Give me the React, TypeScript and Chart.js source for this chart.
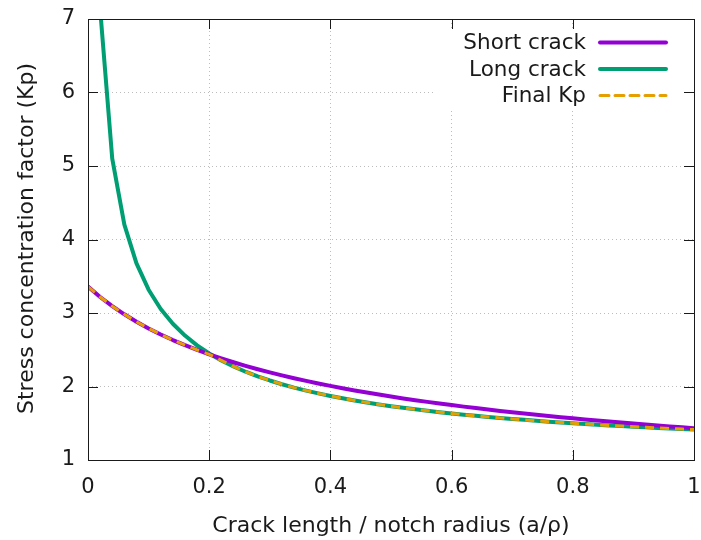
import React, { useEffect, useRef } from "react";
import { Chart, registerables } from "chart.js";

Chart.register(...registerables);

const xValues = [
  0, 0.02, 0.04, 0.06, 0.08, 0.1, 0.12, 0.14, 0.16, 0.18, 0.2, 0.22, 0.24, 0.26, 0.28, 0.3, 0.32, 0.34,
  0.36, 0.38, 0.4, 0.42, 0.44, 0.46, 0.48, 0.5, 0.52, 0.54, 0.56, 0.58, 0.6, 0.62, 0.64, 0.66, 0.68,
  0.7, 0.72, 0.74, 0.76, 0.78, 0.8, 0.82, 0.84, 0.86, 0.88, 0.9, 0.92, 0.94, 0.96, 0.98, 1.0,
];

const shortCrack = [
  3.36, 3.218, 3.093, 2.982, 2.881, 2.79, 2.708, 2.632, 2.562, 2.497, 2.438, 2.382, 2.33, 2.281, 2.235,
  2.192, 2.151, 2.112, 2.076, 2.041, 2.008, 1.976, 1.946, 1.918, 1.89, 1.864, 1.838, 1.814, 1.791, 1.768,
  1.747, 1.726, 1.706, 1.686, 1.668, 1.649, 1.632, 1.615, 1.598, 1.582, 1.567, 1.552, 1.537, 1.523, 1.509,
  1.495, 1.482, 1.469, 1.457, 1.445, 1.433,
];

const longCrack = [
  null, 7.141, 5.099, 4.203, 3.674, 3.317, 3.055, 2.854, 2.693, 2.56, 2.449, 2.355, 2.273, 2.201, 2.138,
  2.082, 2.031, 1.985, 1.944, 1.906, 1.871, 1.839, 1.809, 1.782, 1.756, 1.732, 1.71, 1.689, 1.669, 1.651,
  1.633, 1.616, 1.601, 1.586, 1.572, 1.558, 1.546, 1.533, 1.522, 1.511, 1.5, 1.49, 1.48, 1.471, 1.462,
  1.453, 1.445, 1.437, 1.429, 1.421, 1.414,
];

const finalKp = [
  3.36, 3.218, 3.093, 2.982, 2.881, 2.79, 2.708, 2.632, 2.562, 2.497, 2.438, 2.355, 2.273, 2.201, 2.138,
  2.082, 2.031, 1.985, 1.944, 1.906, 1.871, 1.839, 1.809, 1.782, 1.756, 1.732, 1.71, 1.689, 1.669, 1.651,
  1.633, 1.616, 1.601, 1.586, 1.572, 1.558, 1.546, 1.533, 1.522, 1.511, 1.5, 1.49, 1.48, 1.471, 1.462,
  1.453, 1.445, 1.437, 1.429, 1.421, 1.414,
];

const xTicks = [0, 0.2, 0.4, 0.6, 0.8, 1];
const yTicks = [1, 2, 3, 4, 5, 6, 7];
const seriesNames = ["Short crack", "Long crack", "Final Kp"];
const xTitle = "Crack length / notch radius (a/ρ)";
const yTitle = "Stress concentration factor (Kp)";

const FONT = "'DejaVu Sans', sans-serif";
const FS = 21;
const TITLE_FS = 22;
const KEY_FS = 21.5;
const INK = "#1a1a1a";
const COLORS = ["#9400D3", "#009E73", "#E69F00"];

const toPoints = (ys: (number | null)[]) => xValues.map((x, i) => ({ x, y: ys[i] }));

const gnuplotPlugin = {
  id: "gnuplotDecor",
  beforeDatasetsDraw(chart: any) {
    const ctx = chart.ctx;
    ctx.save();
    ctx.fillStyle = "#ffffff";
    ctx.fillRect(433, 29, 250, 79);
    ctx.restore();
  },
  afterDatasetsDraw(chart: any) {
    const ctx = chart.ctx;
    const { left, right, top, bottom } = chart.chartArea;
    const xs = chart.scales.x;
    const ys = chart.scales.y;
    ctx.save();
    ctx.strokeStyle = INK;
    ctx.lineWidth = 1;
    ctx.beginPath();
    for (const t of xTicks) {
      const px = Math.round(xs.getPixelForValue(t)) + 0.5;
      ctx.moveTo(px, bottom);
      ctx.lineTo(px, bottom - 10);
      ctx.moveTo(px, top);
      ctx.lineTo(px, top + 10);
    }
    for (const t of yTicks) {
      const py = Math.round(ys.getPixelForValue(t)) + 0.5;
      ctx.moveTo(left, py);
      ctx.lineTo(left + 10, py);
      ctx.moveTo(right, py);
      ctx.lineTo(right - 10, py);
    }
    ctx.stroke();
    ctx.strokeRect(Math.round(left) + 0.5, Math.round(top) + 0.5, Math.round(right - left), Math.round(bottom - top));

    ctx.font = `${KEY_FS}px ${FONT}`;
    ctx.textAlign = "right";
    ctx.textBaseline = "middle";
    const rowY = [42.5, 69, 95.5];
    seriesNames.forEach((name, i) => {
      ctx.fillStyle = INK;
      ctx.fillText(name, 586, rowY[i] + 1);
      ctx.strokeStyle = COLORS[i];
      ctx.lineWidth = i === 2 ? 3 : 4;
      ctx.lineCap = "round";
      ctx.setLineDash(i === 2 ? [9, 6] : []);
      ctx.beginPath();
      ctx.moveTo(600, rowY[i]);
      ctx.lineTo(666, rowY[i]);
      ctx.stroke();
    });
    ctx.setLineDash([]);

    ctx.font = `${TITLE_FS}px ${FONT}`;
    ctx.fillStyle = INK;
    ctx.textAlign = "center";
    ctx.textBaseline = "alphabetic";
    ctx.fillText(xTitle, (left + right) / 2, 532);
    ctx.save();
    ctx.translate(33, (top + bottom) / 2 - 1);
    ctx.rotate(-Math.PI / 2);
    ctx.fillText(yTitle, 0, 0);
    ctx.restore();
    ctx.restore();
  },
};

export default function App() {
  const ref = useRef<HTMLCanvasElement | null>(null);

  useEffect(() => {
    document.body.style.margin = "0";
    const canvas = ref.current;
    if (!canvas) return;
    const chart = new Chart(canvas, {
      type: "line",
      data: {
        datasets: [
          {
            label: seriesNames[2],
            data: toPoints(finalKp),
            borderColor: COLORS[2],
            borderWidth: 3,
            borderDash: [9, 6],
            pointRadius: 0,
            order: 0,
          },
          {
            label: seriesNames[0],
            data: toPoints(shortCrack),
            borderColor: COLORS[0],
            borderWidth: 4,
            pointRadius: 0,
            order: 1,
          },
          {
            label: seriesNames[1],
            data: toPoints(longCrack),
            borderColor: COLORS[1],
            borderWidth: 4,
            pointRadius: 0,
            order: 2,
          },
        ],
      },
      options: {
        animation: false,
        responsive: false,
        devicePixelRatio: 1,
        layout: { padding: { left: 0, right: 7, top: 19, bottom: 0 } },
        plugins: { legend: { display: false }, tooltip: { enabled: false }, title: { display: false } },
        elements: { line: { tension: 0, borderJoinStyle: "round", borderCapStyle: "butt" } },
        scales: {
          x: {
            type: "linear",
            min: 0,
            max: 1,
            afterFit: (s: any) => {
              s.height = 80;
              s.paddingLeft = 0;
              s.paddingRight = 0;
              s.paddingTop = 0;
              s.paddingBottom = 0;
            },
            afterBuildTicks: (s: any) => {
              s.ticks = xTicks.map((v) => ({ value: v }));
            },
            ticks: {
              padding: 15,
              color: INK,
              font: { family: FONT, size: FS },
              maxRotation: 0,
              callback: (v: any) => String(v),
            },
            grid: { color: "#bdbdbd", lineWidth: 1, drawTicks: false },
            border: { display: false, dash: [1, 3] },
          },
          y: {
            type: "linear",
            min: 1,
            max: 7,
            afterFit: (s: any) => {
              s.width = 88;
              s.paddingLeft = 0;
              s.paddingRight = 0;
              s.paddingTop = 0;
              s.paddingBottom = 0;
            },
            afterBuildTicks: (s: any) => {
              s.ticks = yTicks.map((v) => ({ value: v }));
            },
            ticks: {
              padding: 13,
              color: INK,
              font: { family: FONT, size: FS },
              callback: (v: any) => String(v),
            },
            grid: { color: "#bdbdbd", lineWidth: 1, drawTicks: false },
            border: { display: false, dash: [1, 3] },
          },
        },
      },
      plugins: [gnuplotPlugin],
    });
    return () => chart.destroy();
  }, []);

  return <canvas ref={ref} width={701} height={540} style={{ display: "block" }} />;
}
